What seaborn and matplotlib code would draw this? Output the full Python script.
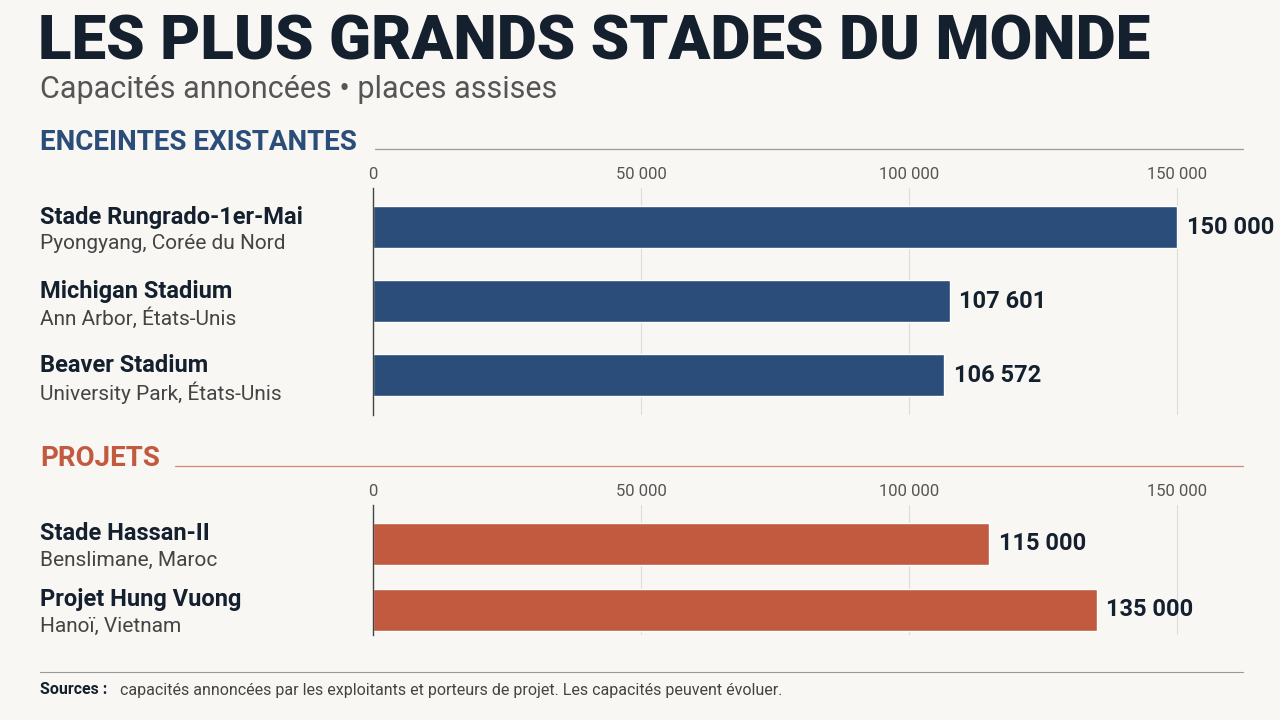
import matplotlib
matplotlib.use("Agg")
import matplotlib.pyplot as plt
import seaborn as sns
import pandas as pd
from matplotlib.lines import Line2D

sns.set_theme(style="white")
plt.rcParams['font.family'] = ['Roboto', 'DejaVu Sans']

exist_names = ["Stade Rungrado-1er-Mai", "Michigan Stadium", "Beaver Stadium"]
exist_places = ["Pyongyang, Corée du Nord", "Ann Arbor, États-Unis", "University Park, États-Unis"]
exist_values = [150000, 107601, 106572]
proj_names = ["Stade Hassan-II", "Projet Hung Vuong"]
proj_places = ["Benslimane, Maroc", "Hanoï, Vietnam"]
proj_values = [115000, 135000]
ticks = [0, 50000, 100000, 150000]
tick_labels = ["0", "50 000", "100 000", "150 000"]

BG = "#f8f7f4"
NAVY = "#2b4d79"
RED = "#c25a40"
DARK = "#15202e"
GREY = "#555555"

fig = plt.figure(figsize=(12.8, 7.2), dpi=100, facecolor=BG)

def fmt(v):
    return f"{v:,}".replace(",", " ")

def px(x, y):
    return x / 1280, 1 - y / 720

def panel(top_px, bot_px, names, places, values, color, ylim, height):
    l = 373 / 1280
    w = (1243 - 373) / 1280
    ax = fig.add_axes([l, 1 - bot_px / 720, w, (bot_px - top_px) / 720])
    ax.set_facecolor(BG)
    df = pd.DataFrame({"name": names, "value": values})
    sns.barplot(data=df, y="name", x="value", orient="h", color=color,
                width=height, ax=ax, saturation=1)
    ax.set_xlim(0, 150000 * (1243 - 373) / 804)
    ax.set_ylim(*ylim)
    ax.set_xticks(ticks)
    ax.set_xticklabels(tick_labels, color=GREY, fontsize=12)
    ax.xaxis.tick_top()
    ax.tick_params(axis="x", length=0, pad=4)
    ax.set_yticks([])
    ax.set_xlabel(""); ax.set_ylabel("")
    for s in ["top", "right", "bottom"]:
        ax.spines[s].set_visible(False)
    ax.spines["left"].set_color("#444444")
    ax.spines["left"].set_linewidth(1)
    for t in ticks[1:]:
        ax.axvline(t, color="#dddddd", lw=0.8, zorder=0)
    for i, v in enumerate(values):
        ax.text(v + 1800, i, fmt(v), va="center", ha="left",
                fontsize=17, fontweight="bold", color=DARK)
    for i, (n, p) in enumerate(zip(names, places)):
        ydata = ax.transData.transform((0, i))[1]
        yf = fig.transFigure.inverted().transform((0, ydata))[1]
        fig.text(40 / 1280, yf - 0.002, n, fontsize=17, fontweight="bold",
                 color=DARK, va="bottom")
        fig.text(40 / 1280, yf - 0.009, p, fontsize=15, color="#444444", va="top")
    return ax

panel(188, 415, exist_names, exist_places, exist_values, NAVY, (2.54, -0.53), 0.57)
panel(505, 635, proj_names, proj_places, proj_values, RED, (1.38, -0.59), 0.64)

fig.text(*px(38, 42), "LES PLUS GRANDS STADES DU MONDE", fontsize=44.5,
         fontweight="black", color=DARK, va="center", ha="left")
fig.text(*px(40, 89), "Capacités annoncées • places assises", fontsize=22,
         color="#555555", va="center", ha="left")

fig.text(*px(40, 142), "ENCEINTES EXISTANTES", fontsize=20, fontweight="bold",
         color=NAVY, va="center")
fig.add_artist(Line2D([375 / 1280, 1243 / 1280], [1 - 149 / 720] * 2,
                      color="#999999", lw=0.9))
fig.text(*px(40, 459), "PROJETS", fontsize=20, fontweight="bold",
         color=RED, va="center")
fig.add_artist(Line2D([175 / 1280, 1243 / 1280], [1 - 466 / 720] * 2,
                      color=RED, lw=0.9, alpha=0.7))
fig.add_artist(Line2D([40 / 1280, 1243 / 1280], [1 - 672 / 720] * 2,
                      color="#999999", lw=0.8))
fig.text(*px(40, 690), "Sources :", fontsize=11.5, fontweight="bold",
         color=DARK, va="center")
fig.text(*px(120, 690), "capacités annoncées par les exploitants et porteurs de projet. Les capacités peuvent évoluer.",
         fontsize=11.5, color="#444444", va="center")

fig.savefig("out.png", dpi=100, facecolor=BG)
